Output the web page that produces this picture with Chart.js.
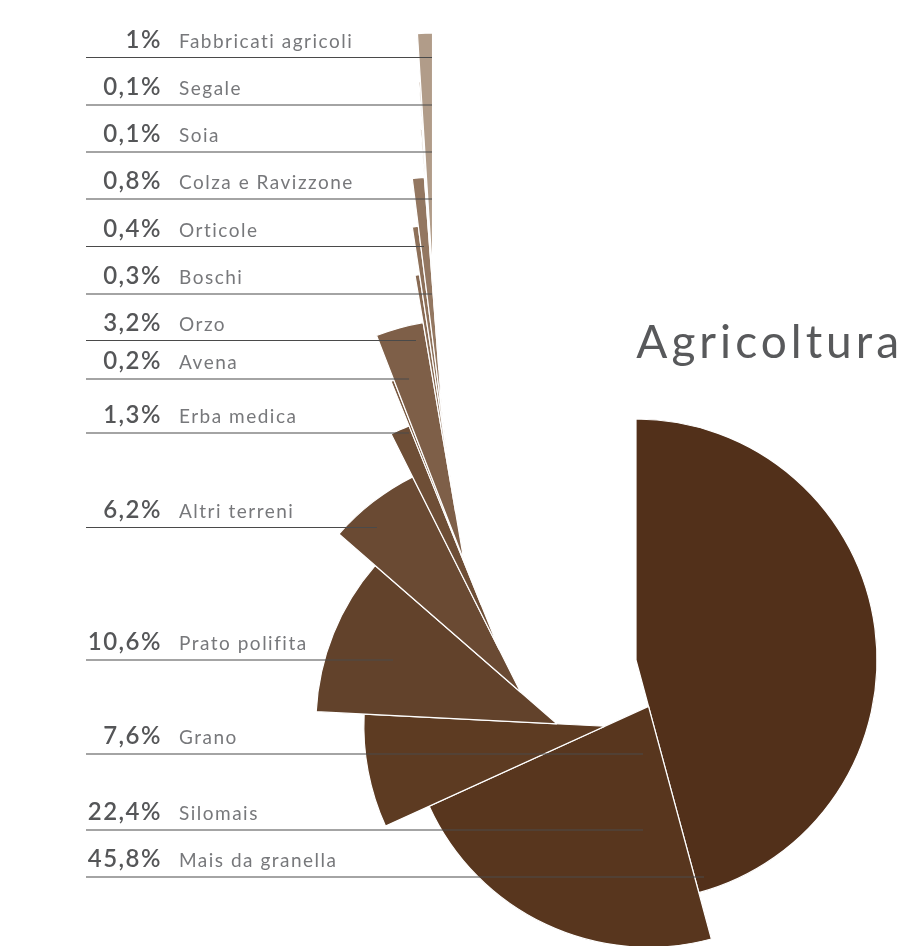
<!DOCTYPE html>
<html>
<head>
<meta charset="utf-8">
<script src="https://cdn.jsdelivr.net/npm/chart.js@4.4.0/dist/chart.umd.min.js"></script>
<style>
    html, body { margin: 0; padding: 0; background: #fff; }
    #wrap { width: 906px; height: 946px; }
</style>
</head>
<body>
<div id="wrap"><canvas id="graph" width="906" height="946"></canvas></div>
<script>
const categories = ['Mais da granella', 'Silomais', 'Grano', 'Prato polifita', 'Altri terreni', 'Erba medica', 'Avena', 'Orzo', 'Boschi', 'Orticole', 'Colza e Ravizzone', 'Soia', 'Segale', 'Fabbricati agricoli'];
const shares = [45.8, 22.4, 7.6, 10.6, 6.2, 1.3, 0.2, 3.2, 0.3, 0.4, 0.8, 0.1, 0.1, 1];
const sliceColors = ['#52301a', '#58361e', '#5d3b22', '#62422b', '#6a4a33', '#6e4e36', '#785840', '#7e5f48', '#886a53', '#8d7059', '#937761', '#a0866f', '#a88f7a', '#b19c89'];

// leader rows: line y and where the line stops (layout only)
const rowY = [877, 830, 754, 660, 527.5, 433, 379, 340.5, 294, 246.5, 199, 152, 105, 57.5];
const rowEnd = [704, 643, 643, 393, 377, 409, 409, 416, 432, 424, 432, 432, 432, 432];

const chainStep = 48;

const graph = document.getElementById('graph').getContext('2d');

function pctText(v) {
    return v.toString().replace('.', ',') + '%';
}

// each slice starts further along the edge of the one before it
const spiral = {
    id: 'spiral',
    afterDatasetsUpdate(chart) {
        const arcs = chart.getDatasetMeta(0).data;
        let x = arcs[0].x, y = arcs[0].y;
        arcs.forEach((arc, i) => {
            if (i > 0) {
                x += chainStep * Math.cos(arc.startAngle);
                y += chainStep * Math.sin(arc.startAngle);
            }
            arc.x = x;
            arc.y = y;
        });
    }
};

const labels = {
    id: 'labels',
    afterDatasetsDraw(chart) {
        const ctx = chart.ctx;
        ctx.save();
        categories.forEach((name, i) => {
            const y = rowY[i];
            ctx.strokeStyle = '#4a4a4a';
            ctx.lineWidth = 1.2;
            ctx.beginPath();
            ctx.moveTo(86, y);
            ctx.lineTo(rowEnd[i], y);
            ctx.stroke();

            ctx.letterSpacing = '1.5px';
            ctx.textBaseline = 'alphabetic';
            ctx.fillStyle = '#555658';
            ctx.font = '600 24px Lato';
            ctx.textAlign = 'right';
            ctx.fillText(pctText(shares[i]), 162, y - 10);

            ctx.fillStyle = '#77787b';
            ctx.font = '19px Lato';
            ctx.textAlign = 'left';
            ctx.fillText(name, 179, y - 10);
        });

        ctx.letterSpacing = '4px';
        ctx.fillStyle = '#58595b';
        ctx.font = '46px Lato';
        ctx.textAlign = 'right';
        ctx.fillText('Agricoltura', 903, 358);
        ctx.restore();
    }
};

new Chart(graph, {
    type: 'pie',
    data: {
        labels: categories,
        datasets: [{
            data: shares,
            backgroundColor: sliceColors,
            borderColor: '#ffffff',
            borderWidth: 1.2
        }]
    },
    options: {
        responsive: false,
        animation: false,
        radius: 241,
        layout: {
            padding: { left: 396, right: 30, top: 420, bottom: 46 }
        },
        plugins: {
            legend: { display: false },
            tooltip: { enabled: false }
        }
    },
    plugins: [spiral, labels]
});
</script>
</body>
</html>
